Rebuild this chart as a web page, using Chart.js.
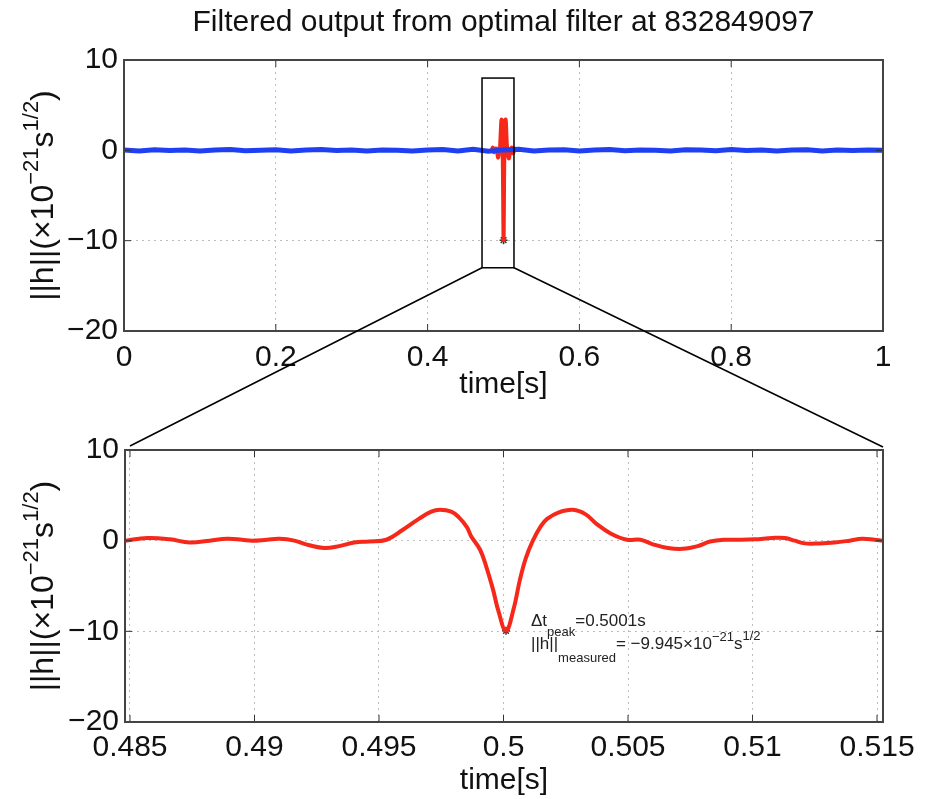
<!DOCTYPE html>
<html>
<head>
<meta charset="utf-8">
<script src="https://cdn.jsdelivr.net/npm/chart.js@4.4.1/dist/chart.umd.min.js"></script>
<style>
  html, body { margin: 0; padding: 0; background: #fff; }
  #wrap { position: relative; width: 930px; height: 799px; overflow: hidden; }
  canvas { position: absolute; left: 0; }
  #top { top: 0; }
  #zoom { top: 420px; }
  #links { top: 0; pointer-events: none; }
</style>
</head>
<body>
<div id="wrap">
  <canvas id="top" width="930" height="420"></canvas>
  <canvas id="zoom" width="930" height="379"></canvas>
  <canvas id="links" width="930" height="799"></canvas>
</div>
<script>
// full 1 s of filtered output (blue), sampled every 0.02 s
const blueStep = 0.02;
const blueValue = [
  0.03, -0.06, 0.06, -0.03, 0.05, -0.07, 0.03, 0.08, -0.05, 0.01,
  0.06, -0.06, 0.03, 0.09, -0.03, 0.04, -0.07, 0.05, 0.00, -0.06,
  0.03, 0.08, -0.07, 0.12, -0.10, 0.05, 0.11, -0.08, 0.04, 0.06,
  -0.06, 0.03, 0.08, -0.05, 0.05, 0.00, -0.07, 0.06, 0.03, -0.05,
  0.08, -0.03, 0.05, -0.07, 0.03, 0.06, -0.06, 0.04, -0.03, 0.05,
  0.00
];

// zoomed section around the event (red)
const redTime = [
  0.4848, 0.4857, 0.4866, 0.4874, 0.4882, 0.4889, 0.4895, 0.4899, 0.4905, 0.4910,
  0.4916, 0.4922, 0.4928, 0.4934, 0.4940, 0.4946, 0.4953, 0.49596, 0.4966, 0.4971,
  0.49745, 0.4979, 0.4982, 0.49853, 0.4987, 0.49906, 0.4993, 0.49958, 0.4998,
  0.5001, 0.5004, 0.50066, 0.5009, 0.50118, 0.5015, 0.50175, 0.5022, 0.50279, 0.5033,
  0.50376, 0.5043, 0.50496, 0.5055, 0.5060, 0.5066, 0.5072, 0.5078, 0.5083, 0.5089,
  0.5095, 0.5101, 0.5108, 0.5113, 0.5117, 0.5121, 0.5127, 0.5133, 0.5139, 0.5144,
  0.5149, 0.5152
];
const redValue = [
  0.0, 0.3, 0.15, -0.2, 0.0, 0.2, 0.1, 0.0, 0.1, 0.2,
  0.0, -0.5, -0.8, -0.6, -0.2, -0.1, 0.1, 1.2, 2.4, 3.2,
  3.4, 3.2, 2.6, 1.5, 0.5, -1.0, -2.8, -5.4, -7.8,
  -9.945, -7.6, -4.3, -1.9, 0.0, 1.6, 2.4, 3.1, 3.4, 2.9,
  1.8, 0.8, 0.1, 0.1, -0.4, -0.8, -0.9, -0.6, -0.1, 0.1,
  0.1, 0.15, 0.3, 0.3, 0.0, -0.3, -0.3, -0.2, 0.0, 0.2,
  0.1, 0.0
];

const peakTime = 0.5001;
const peakValue = -9.945;

// zoom rectangle drawn on the top plot
const boxTime = [0.4717, 0.5138];
const boxValue = [-13, 8];

const yTicks = [-20, -10, 0, 10];
const yTickLabels = ['−20', '−10', '0', '10'];
const topTicksX = [0, 0.2, 0.4, 0.6, 0.8, 1];
const topTickLabelsX = ['0', '0.2', '0.4', '0.6', '0.8', '1'];
const zoomTicksX = [0.485, 0.49, 0.495, 0.5, 0.505, 0.51, 0.515];
const zoomTickLabelsX = ['0.485', '0.49', '0.495', '0.5', '0.505', '0.51', '0.515'];
const zoomRange = [0.4848, 0.51524];

const FONT = "'Liberation Sans', Arial, Helvetica, sans-serif";
const BLUE = '#1f3ff2';
const RED = '#f5281a';
const INK = '#111';
const ZOOM_TOP = 420;

const yLabelParts = [
  { text: '||h||(×10', size: 32 },
  { text: '−21', size: 22, rise: 15 },
  { text: 's', size: 32 },
  { text: '1/2', size: 22, rise: 15 },
  { text: ')', size: 32 },
];
const noteLine1 = [
  { text: 'Δt', size: 17 },
  { text: 'peak', size: 13, rise: -10 },
  { text: '=0.5001s', size: 17 },
];
const noteLine2 = [
  { text: '||h||', size: 17 },
  { text: 'measured', size: 13, rise: -13 },
  { text: '= −9.945×10', size: 17 },
  { text: '−21', size: 13, rise: 8 },
  { text: 's', size: 17 },
  { text: '1/2', size: 13, rise: 9 },
];

function richWidth(ctx, parts) {
  let w = 0;
  for (const p of parts) {
    ctx.font = p.size + 'px ' + FONT;
    w += ctx.measureText(p.text).width;
  }
  return w;
}

function drawRich(ctx, parts, x, y) {
  let cx = x;
  for (const p of parts) {
    ctx.font = p.size + 'px ' + FONT;
    ctx.fillText(p.text, cx, y - (p.rise || 0));
    cx += ctx.measureText(p.text).width;
  }
}

// rotated y label with superscripts
const yTitle = {
  id: 'yTitle',
  afterDraw(chart) {
    const { ctx, chartArea } = chart;
    ctx.save();
    const w = richWidth(ctx, yLabelParts);
    ctx.translate(53, (chartArea.top + chartArea.bottom) / 2);
    ctx.rotate(-Math.PI / 2);
    ctx.fillStyle = INK;
    ctx.textBaseline = 'alphabetic';
    drawRich(ctx, yLabelParts, -w / 2, 0);
    ctx.restore();
  }
};

// matlab style box with inward ticks
const frame = {
  id: 'frame',
  afterDraw(chart) {
    const { ctx, chartArea: a, scales } = chart;
    ctx.save();
    ctx.strokeStyle = '#333';
    ctx.lineWidth = 1;
    ctx.beginPath();
    for (const t of scales.x.ticks) {
      const px = scales.x.getPixelForValue(t.value);
      ctx.moveTo(px, a.bottom); ctx.lineTo(px, a.bottom - 7);
      ctx.moveTo(px, a.top); ctx.lineTo(px, a.top + 7);
    }
    for (const t of scales.y.ticks) {
      const py = scales.y.getPixelForValue(t.value);
      ctx.moveTo(a.left, py); ctx.lineTo(a.left + 7, py);
      ctx.moveTo(a.right, py); ctx.lineTo(a.right - 7, py);
    }
    ctx.stroke();
    ctx.strokeStyle = '#444';
    ctx.lineWidth = 2;
    ctx.strokeRect(a.left, a.top, a.width, a.height);
    ctx.restore();
  }
};

const zoomBox = {
  id: 'zoomBox',
  afterDatasetsDraw(chart) {
    const { ctx, scales: { x, y } } = chart;
    const l = x.getPixelForValue(boxTime[0]);
    const r = x.getPixelForValue(boxTime[1]);
    const t = y.getPixelForValue(boxValue[1]);
    const b = y.getPixelForValue(boxValue[0]);
    ctx.save();
    ctx.strokeStyle = '#000';
    ctx.lineWidth = 1.5;
    ctx.strokeRect(l, t, r - l, b - t);
    ctx.restore();
  }
};

const peakNote = {
  id: 'peakNote',
  afterDatasetsDraw(chart) {
    const { ctx, scales: { x, y } } = chart;
    const px = x.getPixelForValue(peakTime) + 25;
    const py = y.getPixelForValue(peakValue);
    ctx.save();
    ctx.fillStyle = '#222';
    ctx.textBaseline = 'alphabetic';
    drawRich(ctx, noteLine1, px, py - 5);
    drawRich(ctx, noteLine2, px, py + 18);
    ctx.restore();
  }
};

function yScale(width) {
  return {
    type: 'linear',
    min: -20,
    max: 10,
    afterBuildTicks: s => { s.ticks = yTicks.map(v => ({ value: v })); },
    afterFit: s => { s.width = width; },
    ticks: {
      font: { size: 30, family: FONT },
      color: INK,
      padding: 6,
      callback: (v, i) => yTickLabels[i],
    },
    grid: { color: '#bdbdbd', drawTicks: false, borderDash: [2, 4] },
    border: { display: false, dash: [2, 4] },
  };
}

function xScale(min, max, ticks, labels, height, tickPad, titlePad) {
  return {
    type: 'linear',
    min,
    max,
    afterBuildTicks: s => { s.ticks = ticks.map(v => ({ value: v })); },
    afterFit: s => { s.height = height; },
    ticks: {
      font: { size: 30, family: FONT },
      color: INK,
      padding: tickPad,
      maxRotation: 0,
      autoSkip: false,
      callback: (v, i) => labels[i],
    },
    grid: { color: '#bdbdbd', drawTicks: false, borderDash: [2, 4] },
    border: { display: false, dash: [2, 4] },
    title: {
      display: true,
      text: 'time[s]',
      font: { size: 30, family: FONT },
      color: INK,
      padding: { top: 0, bottom: titlePad },
    },
  };
}

const redPoints = redTime.map((t, i) => ({ x: t, y: redValue[i] }));
const bluePoints = blueValue.map((v, i) => ({ x: i * blueStep, y: v }));
const peakPoint = [{ x: peakTime, y: peakValue }];

const topChart = new Chart(document.getElementById('top'), {
  type: 'line',
  data: {
    datasets: [
      {
        label: 'filtered output',
        data: bluePoints,
        borderColor: BLUE,
        borderWidth: 5,
        pointRadius: 0,
        tension: 0,
      },
      {
        label: 'event',
        data: redPoints,
        borderColor: RED,
        borderWidth: 4,
        pointRadius: 0,
        tension: 0.4,
      },
      {
        label: 'peak',
        data: peakPoint,
        showLine: false,
        pointStyle: 'star',
        pointRadius: 4,
        pointBorderColor: '#333',
        pointBorderWidth: 1.5,
      },
    ],
  },
  options: {
    responsive: false,
    animation: false,
    events: [],
    layout: { padding: { top: 0, right: 47, bottom: 0, left: 0 } },
    scales: {
      x: xScale(0, 1, topTicksX, topTickLabelsX, 89, 9, 17),
      y: yScale(124),
    },
    plugins: {
      legend: { display: false },
      tooltip: { enabled: false },
      title: {
        display: true,
        fullSize: false,
        text: 'Filtered output from optimal filter at 832849097',
        font: { size: 30, family: FONT, weight: 'normal' },
        color: INK,
        padding: { top: 5, bottom: 19 },
      },
    },
  },
  plugins: [yTitle, frame, zoomBox],
});

const zoomChart = new Chart(document.getElementById('zoom'), {
  type: 'line',
  data: {
    datasets: [
      {
        label: 'event',
        data: redPoints,
        borderColor: RED,
        borderWidth: 4,
        pointRadius: 0,
        tension: 0.4,
      },
      {
        label: 'peak',
        data: peakPoint,
        showLine: false,
        pointStyle: 'star',
        pointRadius: 4,
        pointBorderColor: '#333',
        pointBorderWidth: 1.5,
      },
    ],
  },
  options: {
    responsive: false,
    animation: false,
    events: [],
    layout: { padding: { top: 30, right: 47, bottom: 0, left: 0 } },
    scales: {
      x: xScale(zoomRange[0], zoomRange[1], zoomTicksX, zoomTickLabelsX, 77, 8, 0),
      y: yScale(125),
    },
    plugins: {
      legend: { display: false },
      tooltip: { enabled: false },
    },
  },
  plugins: [yTitle, frame, peakNote],
});

// connector lines from the zoom box to the lower plot
const links = document.getElementById('links').getContext('2d');
const tx = topChart.scales.x, ty = topChart.scales.y;
const za = zoomChart.chartArea, zx = zoomChart.scales.x;
links.strokeStyle = '#000';
links.lineWidth = 1.5;
links.beginPath();
links.moveTo(tx.getPixelForValue(boxTime[0]), ty.getPixelForValue(boxValue[0]));
links.lineTo(zx.getPixelForValue(zoomTicksX[0]), ZOOM_TOP + za.top - 4);
links.moveTo(tx.getPixelForValue(boxTime[1]), ty.getPixelForValue(boxValue[0]));
links.lineTo(za.right, ZOOM_TOP + za.top - 3);
links.stroke();
</script>
</body>
</html>
